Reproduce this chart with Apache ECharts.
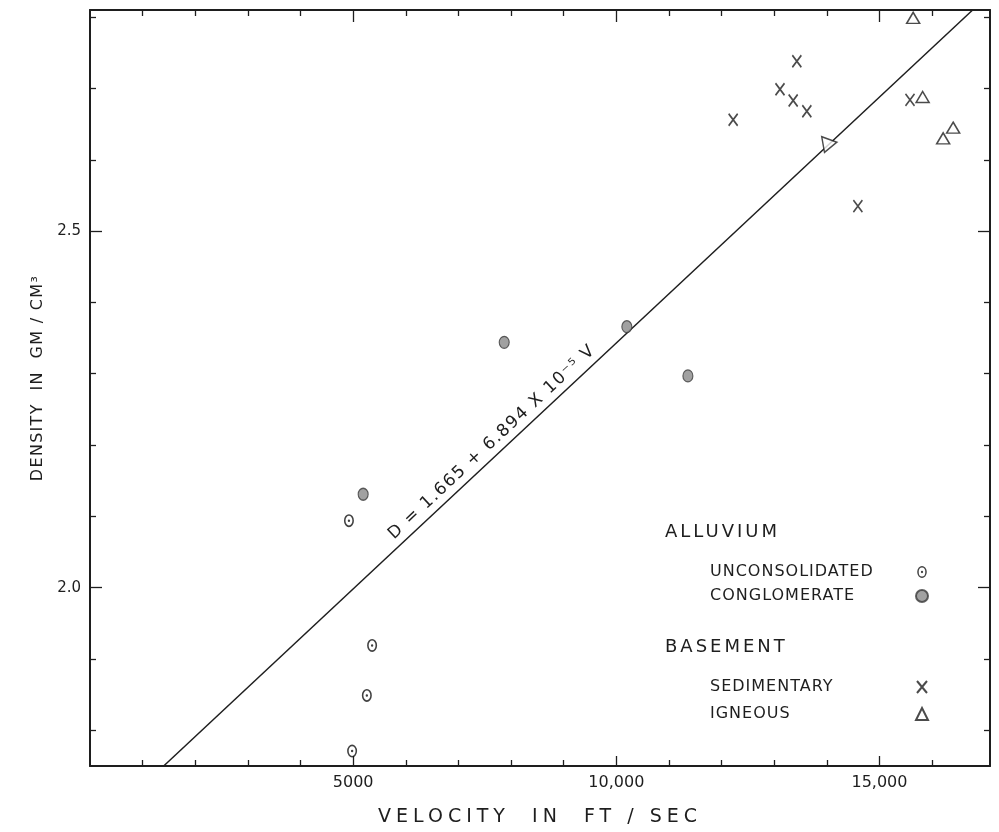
<!DOCTYPE html>
<html>
<head>
<meta charset="utf-8">
<script src="https://cdn.jsdelivr.net/npm/echarts@6/dist/echarts.min.js"></script>
<style>
html,body{margin:0;padding:0;background:#ffffff;}
#chart{width:999px;height:832px;}
</style>
</head>
<body>
<div id="chart"></div>
<script>
// ---- data ----
const unconsolidatedVelocity = [4920, 5360, 5260, 4980];
const unconsolidatedDensity  = [2.094, 1.919, 1.849, 1.771];
const conglomerateVelocity   = [5190, 7870, 10200, 11360];
const conglomerateDensity    = [2.131, 2.344, 2.366, 2.297];
const sedimentaryVelocity    = [13430, 13110, 13360, 13620, 12220, 14590, 15580];
const sedimentaryDensity     = [2.738, 2.699, 2.683, 2.668, 2.656, 2.535, 2.684];
const igneousVelocity        = [15640, 15820, 14060, 16210, 16400];
const igneousDensity         = [2.799, 2.688, 2.623, 2.630, 2.645];
const fitLineVelocity        = [1400, 16770];
const fitLineDensity         = [1.75, 2.81];

const xMajorTicks  = [5000, 10000, 15000];
const xMajorLabels = ['5000', '10,000', '15,000'];
const xMinorTicks  = [1000, 2000, 3000, 4000, 6000, 7000, 8000, 9000, 11000, 12000, 13000, 14000, 16000];
const yMajorTicks  = [2.0, 2.5];
const yMajorLabels = ['2.0', '2.5'];
const yMinorTicks  = [1.8, 1.9, 2.1, 2.2, 2.3, 2.4, 2.6, 2.7, 2.8];

const xTitle = 'VELOCITY  IN  FT / SEC';
const yTitle = 'DENSITY  IN  GM / CM\u00B3';
const equationText = 'D = 1.665 + 6.894 X 10\u207B\u2075 V';
const legendGroups = ['ALLUVIUM', 'BASEMENT'];
const seriesNames = ['UNCONSOLIDATED', 'CONGLOMERATE', 'SEDIMENTARY', 'IGNEOUS'];

// ---- hand-lettered look: extra letter spacing for a few labels (drawing only) ----
const spacing = new Map([
  [xTitle, '5px'], [yTitle, '1.3px'], [equationText, '1.5px'],
  [legendGroups[0], '3px'], [legendGroups[1], '3px'],
  [seriesNames[0], '1px'], [seriesNames[1], '1px'], [seriesNames[2], '1px'], [seriesNames[3], '1px']
]);
(function () {
  const proto = CanvasRenderingContext2D.prototype;
  const orig = proto.fillText;
  proto.fillText = function (txt, x, y, mw) {
    const ls = spacing.get(txt);
    const call = () => (mw === undefined ? orig.call(this, txt, x, y) : orig.call(this, txt, x, y, mw));
    if (ls && 'letterSpacing' in this) {
      const font = this.font;
      this.letterSpacing = ls;
      this.font = font;
      const r = call();
      this.letterSpacing = '0px';
      this.font = font;
      return r;
    }
    if ('letterSpacing' in this && this.letterSpacing !== '0px') {
      const font = this.font;
      this.letterSpacing = '0px';
      this.font = font;
    }
    return call();
  };
})();

// ---- styling ----
const INK = '#1e1e1e';
const FONT = 'DejaVu Sans';
const X_MIN = 0, X_MAX = 17100, Y_MIN = 1.75, Y_MAX = 2.81;

function zip(a, b) { return a.map((v, i) => [v, b[i]]); }

const ringSymbol = 'path://M4,12a8,10 0 1,0 16,0a8,10 0 1,0 -16,0Z M6.5,12a5.5,7.5 0 1,1 11,0a5.5,7.5 0 1,1 -11,0Z M10.1,12a1.9,1.9 0 1,0 3.8,0a1.9,1.9 0 1,0 -3.8,0Z';
const crossSymbol = 'path://M0,0L10,12M10,0L0,12';

function xAxisDef(position, ticks, len, showLine, labels) {
  return {
    type: 'value', position: position, min: X_MIN, max: X_MAX,
    axisLine: { show: showLine, onZero: false, lineStyle: { color: INK, width: 2 } },
    axisTick: { show: true, inside: true, length: len, customValues: ticks, lineStyle: { color: INK, width: 1.3 } },
    axisLabel: labels ? {
      show: true, customValues: xMajorTicks, margin: 9,
      formatter: v => { const i = xMajorTicks.indexOf(v); return i >= 0 ? xMajorLabels[i] : ''; },
      color: INK, fontFamily: FONT, fontSize: 16
    } : { show: false },
    splitLine: { show: false },
    name: labels ? xTitle : '',
    nameLocation: 'middle', nameGap: 42,
    nameTextStyle: { color: INK, fontFamily: FONT, fontSize: 19 }
  };
}
function yAxisDef(position, ticks, len, showLine, labels) {
  return {
    type: 'value', position: position, min: Y_MIN, max: Y_MAX,
    axisLine: { show: showLine, onZero: false, lineStyle: { color: INK, width: 2 } },
    axisTick: { show: true, inside: true, length: len, customValues: ticks, lineStyle: { color: INK, width: 1.3 } },
    axisLabel: labels ? {
      show: true, customValues: yMajorTicks, margin: 9,
      formatter: v => { const i = yMajorTicks.findIndex(t => Math.abs(t - v) < 1e-6); return i >= 0 ? yMajorLabels[i] : ''; },
      color: INK, fontFamily: FONT, fontSize: 15
    } : { show: false },
    splitLine: { show: false },
    name: labels ? yTitle : '',
    nameLocation: 'middle', nameGap: 44, nameRotate: 90,
    nameTextStyle: { color: INK, fontFamily: FONT, fontSize: 16, padding: [0, 0, 0, 20] }
  };
}

const chart = echarts.init(document.getElementById('chart'), null, { renderer: 'canvas' });

const igneousData = zip(igneousVelocity, igneousDensity).map((p, i) =>
  i === 2 ? { value: p, symbolSize: [16, 14], symbolRotate: -80 } : p);

const legendText = {
  fontFamily: FONT, fontSize: 16, color: INK, lineHeight: 18,
  rich: { n: { fontFamily: FONT, fontSize: 16, color: INK, width: 201, align: 'left', lineHeight: 18 } }
};
const legendFormatter = name => '{n|' + name + '}';

const option = {
  animation: false,
  backgroundColor: '#ffffff',
  grid: { left: 90, right: 9, top: 10, bottom: 63, containLabel: false },
  xAxis: [
    xAxisDef('bottom', xMinorTicks, 6, true, true),
    xAxisDef('bottom', xMajorTicks, 10, false, false),
    xAxisDef('top', xMinorTicks, 6, true, false),
    xAxisDef('top', xMajorTicks, 12, false, false)
  ],
  yAxis: [
    yAxisDef('left', yMinorTicks, 6, true, true),
    yAxisDef('left', yMajorTicks, 12, false, false),
    yAxisDef('right', yMinorTicks, 6, true, false),
    yAxisDef('right', yMajorTicks, 12, false, false)
  ],
  legend: [
    { data: [seriesNames[0], seriesNames[1]], orient: 'vertical', align: 'right', left: 705, top: 558,
      itemWidth: 12, itemHeight: 12, itemGap: 6, selectedMode: false, textStyle: legendText, formatter: legendFormatter },
    { data: [seriesNames[2], seriesNames[3]], orient: 'vertical', align: 'right', left: 705, top: 673,
      itemWidth: 12, itemHeight: 12, itemGap: 9, selectedMode: false, textStyle: legendText, formatter: legendFormatter }
  ],
  series: [
    { name: 'fit', type: 'line', data: zip(fitLineVelocity, fitLineDensity), symbol: 'none', silent: true,
      lineStyle: { color: INK, width: 1.5 }, z: 1 },
    { name: seriesNames[0], type: 'scatter', data: zip(unconsolidatedVelocity, unconsolidatedDensity),
      symbol: ringSymbol, symbolSize: [10, 13], itemStyle: { color: '#111' }, z: 3 },
    { name: seriesNames[1], type: 'scatter', data: zip(conglomerateVelocity, conglomerateDensity),
      symbol: 'circle', symbolSize: [10, 12], itemStyle: { color: '#8a8a8a', borderColor: '#3a3a3a', borderWidth: 1.2 }, z: 3 },
    { name: seriesNames[2], type: 'scatter', data: zip(sedimentaryVelocity, sedimentaryDensity),
      symbol: crossSymbol, symbolSize: [9, 12], itemStyle: { color: 'rgba(0,0,0,0)', borderColor: INK, borderWidth: 1.8 }, z: 3 },
    { name: seriesNames[3], type: 'scatter', data: igneousData,
      symbol: 'triangle', symbolSize: [13, 11], itemStyle: { color: '#ffffff', borderColor: INK, borderWidth: 1.5 }, z: 3 }
  ]
};
chart.setOption(option);

// equation label placed along the fit line
const p1 = chart.convertToPixel({ xAxisIndex: 0, yAxisIndex: 0 }, [fitLineVelocity[0], fitLineDensity[0]]);
const p2 = chart.convertToPixel({ xAxisIndex: 0, yAxisIndex: 0 }, [fitLineVelocity[1], fitLineDensity[1]]);
const angle = Math.atan2(p1[1] - p2[1], p2[0] - p1[0]);
const t = (7800 - fitLineVelocity[0]) / (fitLineVelocity[1] - fitLineVelocity[0]);
const anchor = [p1[0] + t * (p2[0] - p1[0]), p1[1] + t * (p2[1] - p1[1])];

chart.setOption({
  graphic: [
    { type: 'text', x: anchor[0], y: anchor[1], rotation: angle, z: 10,
      style: { text: equationText, x: 0, y: -4, align: 'center', verticalAlign: 'bottom',
        fontFamily: FONT, fontSize: 17, fill: INK } },
    { type: 'text', left: 665, top: 523, z: 10,
      style: { text: legendGroups[0], fontFamily: FONT, fontSize: 18, fill: INK } },
    { type: 'text', left: 665, top: 638, z: 10,
      style: { text: legendGroups[1], fontFamily: FONT, fontSize: 18, fill: INK } }
  ]
});
</script>
</body>
</html>
